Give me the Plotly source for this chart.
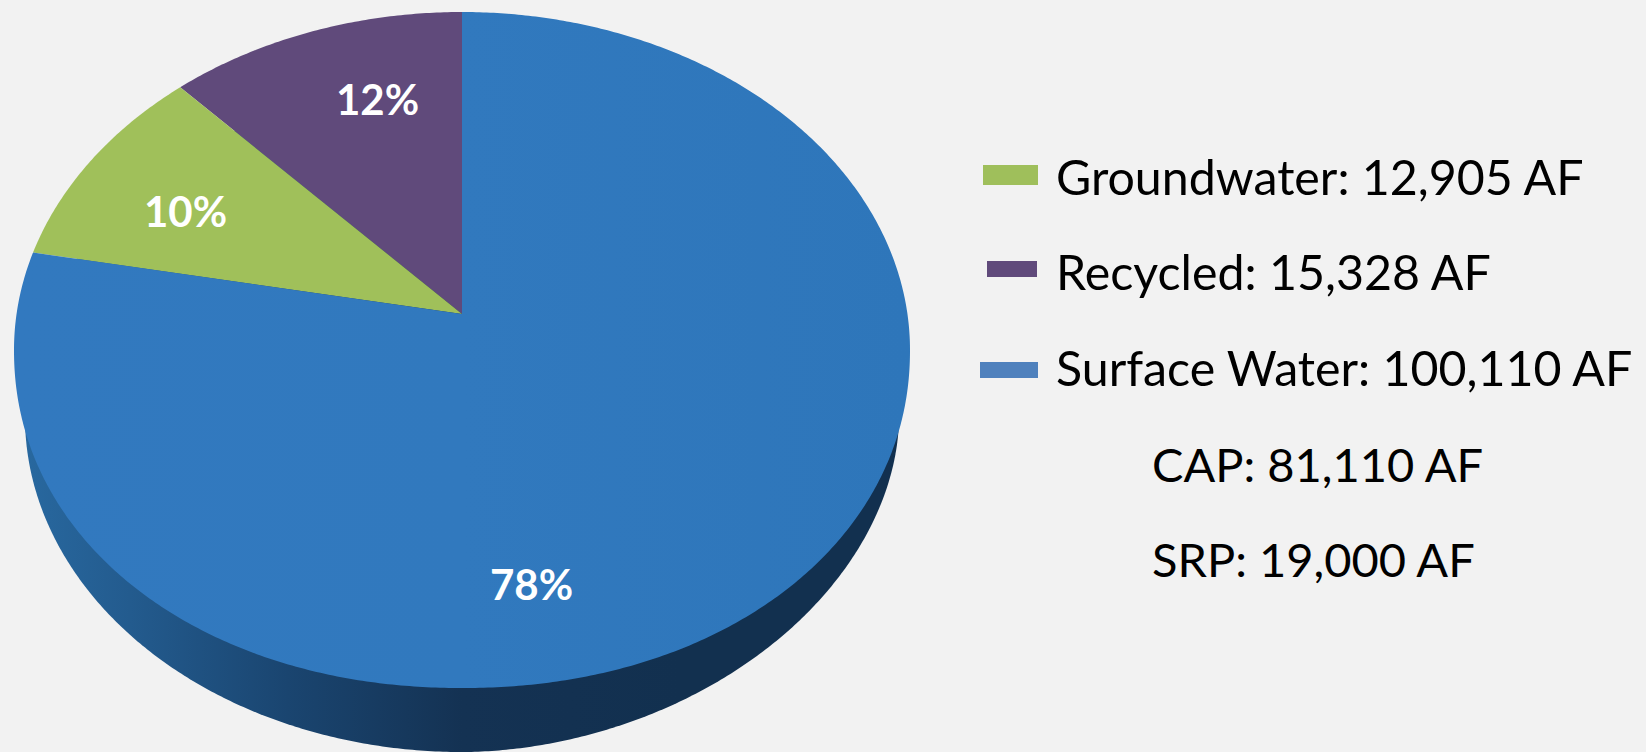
import numpy as np
import plotly.graph_objects as go

# ---- data ----
slice_names = ["Recycled", "Groundwater", "Surface Water"]
slice_values = [15328, 12905, 100110]
sub_names = ["CAP", "SRP"]
sub_values = [81110, 19000]
unit = "AF"

# ---- styles ----
BG = "#f2f2f2"
slice_colors = {"Recycled": "#604a7b", "Groundwater": "#a0c05a", "Surface Water": "#2f78bd"}
swatch_colors = {"Recycled": "#604a7b", "Groundwater": "#9fbf5b", "Surface Water": "#4f81bd"}
face_scale = [[0, "#3279bf"], [0.5, "#3179be"], [1, "#2e76ba"]]
side_scale = [[0, "#28689f"], [0.12, "#235b8e"], [0.3, "#1a4570"],
              [0.5, "#143253"], [0.75, "#12304f"], [1, "#12304f"]]
FONT = "Lato"

W, H = 1646, 752
CX, CY, RX, RY = 462.0, 350.0, 448.0, 338.0      # top face outline
APEX_OFF = 36.0                                   # pie centre sits above the ellipse centre
LOW_CY, LOW_RX, LOW_RY = 417.0, 437.0, 335.0      # lower rim
LOW_RIGHT_EXP = 1.9                               # lower rim is a little flatter on the right
FRONT_EXP = 2.08                                  # front of the face bulges slightly


def project(theta):
    """Clockwise angle from 12 o'clock -> screen position on the tilted pie rim."""
    k = APEX_OFF / RY
    u, v = np.sin(theta), np.cos(theta)
    a = RX * np.sqrt(1 - k * k)
    d = 1 + k * v
    x = CX + a * u / d
    y = CY - (RY * v + APEX_OFF) / d
    front = y > CY
    rel = np.clip(np.abs(x - CX) / RX, 0, 1)
    y = np.where(front, CY + RY * (1 - rel ** FRONT_EXP) ** (1 / FRONT_EXP), y)
    return x, y


values = np.array(slice_values, dtype=float)
fractions = values / values.sum()
edges = np.concatenate([[0], np.cumsum(fractions)]) * 2 * np.pi

fig = go.Figure()

# extruded side, seen below the top face
t = np.linspace(0, 2 * np.pi, 721)
c, s = np.cos(t), np.sin(t)
power = np.where(c > 0, 2 / LOW_RIGHT_EXP, 1.0)
fig.add_trace(go.Scatter(
    x=CX + LOW_RX * np.sign(c) * np.abs(c) ** power,
    y=LOW_CY + LOW_RY * np.sign(s) * np.abs(s) ** power,
    mode="none", fill="toself", hoverinfo="skip", showlegend=False,
    fillgradient=dict(type="horizontal", colorscale=side_scale)))

# pie runs anti-clockwise from 12 o'clock
apex_x, apex_y = CX, CY - APEX_OFF
for i, name in enumerate(slice_names):
    n = max(int(fractions[i] * 720), 12)
    th = -np.linspace(edges[i], edges[i + 1], n)
    px, py = project(th)
    xs = np.concatenate([[apex_x], px, [apex_x]])
    ys = np.concatenate([[apex_y], py, [apex_y]])
    kw = dict(fillgradient=dict(type="horizontal", colorscale=face_scale)) if name == "Surface Water" \
        else dict(fillcolor=slice_colors[name])
    fig.add_trace(go.Scatter(x=xs, y=ys, mode="none", fill="toself", name=name,
                             hoverinfo="name", showlegend=False, **kw))

# percent labels
label_pos = {"Recycled": (377, 99), "Groundwater": (185, 211), "Surface Water": (531, 584)}
annotations = []
for name, f in zip(slice_names, fractions):
    lx, ly = label_pos[name]
    annotations.append(dict(x=lx, y=ly, xref="x", yref="y", text=f"<b>{round(f * 100)}%</b>",
                            showarrow=False, xanchor="center", yanchor="middle",
                            font=dict(family=FONT, size=42, color="white")))

# hand-placed legend
rows = [
    (f"Groundwater: {slice_values[1]:,} {unit}", 1054, 176, 48.3),
    (f"Recycled: {slice_values[0]:,} {unit}", 1054, 271, 48.3),
    (f"Surface Water: {slice_values[2]:,} {unit}", 1054, 367, 48.3),
    (f"{sub_names[0]}: {sub_values[0]:,} {unit}", 1150, 464, 47),
    (f"{sub_names[1]}: {sub_values[1]:,} {unit}", 1150, 559, 47),
]
for text, lx, ly, size in rows:
    annotations.append(dict(x=lx, y=ly, xref="x", yref="y", text=text, showarrow=False,
                            xanchor="left", yanchor="middle",
                            font=dict(family=FONT, size=size, color="black")))

swatches = [("Groundwater", 983, 1038, 165, 185),
            ("Recycled", 987, 1037, 261, 277),
            ("Surface Water", 980, 1038, 362, 378)]
shapes = [dict(type="rect", xref="x", yref="y", x0=a, x1=b, y0=c0, y1=d,
               fillcolor=swatch_colors[n], line_width=0) for n, a, b, c0, d in swatches]

fig.update_layout(
    width=W, height=H, margin=dict(l=0, r=0, t=0, b=0),
    paper_bgcolor=BG, plot_bgcolor=BG, showlegend=False,
    annotations=annotations, shapes=shapes,
    xaxis=dict(range=[0, W], visible=False, fixedrange=True),
    yaxis=dict(range=[H, 0], visible=False, fixedrange=True),
)
fig.write_html("out.html", config=dict(displayModeBar=False),
               post_script="document.body.style.margin='0';document.body.style.overflow='hidden';"
                           f"document.body.style.background='{BG}';")
